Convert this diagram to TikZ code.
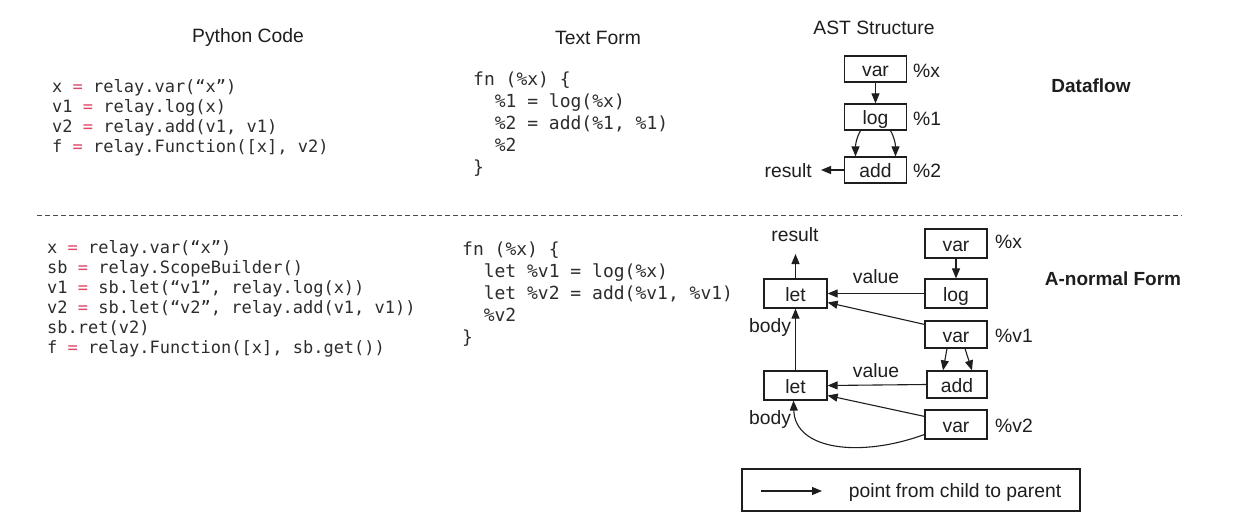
\documentclass[tikz,border=0pt]{standalone}
\usepackage{fontspec}
\setmainfont{Liberation Sans}
\newfontfamily\codefont{DejaVu Sans Mono}
\usetikzlibrary{arrows.meta}
\definecolor{eqred}{RGB}{222,72,104}
\definecolor{ink}{RGB}{30,30,30}
\definecolor{codeink}{RGB}{45,45,45}
\begin{document}
\begin{tikzpicture}[x=1pt,y=-1pt,
  lbl/.style={font=\fontsize{19.3}{22}\selectfont, text=ink, inner sep=0pt, anchor=base},
  lblw/.style={lbl, anchor=base west},
  bold/.style={font=\fontsize{19}{22}\selectfont\bfseries, text=ink, inner sep=0pt, anchor=base},
  pyc/.style={font=\codefont\fontsize{17}{20}\selectfont, text=codeink, inner sep=0pt, anchor=base west},
  txc/.style={font=\codefont\fontsize{18}{22}\selectfont, text=codeink, inner sep=0pt, anchor=base west},
  astbox/.style={draw=ink, line width=1.2pt, minimum width=62pt, minimum height=27pt, inner sep=0pt,
     text height=15pt, text depth=0pt, font=\fontsize{19.3}{22}\selectfont, text=ink},
  arr/.style={draw=ink, line width=1.1pt, -{Triangle[length=10pt,width=8pt]}},
]
\useasboundingbox[fill=white] (0,0) rectangle (1260,525);
\newcommand{\eq}{\textcolor{eqred}{=}}

% ---------- titles ----------
\node[lbl] (tpy) at (248,42) {Python Code};
\node[lbl] (ttx) at (598,44) {Text Form};
\node[lbl] (tast) at (874,34) {AST Structure};

% ---------- top python code ----------
\node[pyc] (p1) at (52,92)  {x \eq{} relay.var(“x”)};
\node[pyc] (p2) at (52,112) {v1 \eq{} relay.log(x)};
\node[pyc] (p3) at (52,132) {v2 \eq{} relay.add(v1, v1)};
\node[pyc] (p4) at (52,152) {f \eq{} relay.Function([x], v2)};

% ---------- top text form ----------
\node[txc] (t1) at (473,85)  {fn (\%x) \{};
\node[txc] (t2) at (494.6,107) {\%1 = log(\%x)};
\node[txc] (t3) at (494.6,129) {\%2 = add(\%1, \%1)};
\node[txc] (t4) at (494.6,151) {\%2};
\node[txc] (t5) at (473,173) {\}};

% ---------- top AST ----------
\node[astbox, minimum height=26pt] (var) at (875.5,69) {var};
\node[astbox, minimum height=26pt] (log) at (875.5,117) {log};
\node[astbox, minimum height=26pt] (add) at (875.5,170) {add};
\node[lblw] (px) at (913,77) {\%x};
\node[lblw] (p1l) at (913,125) {\%1};
\node[lblw] (p2l) at (913,177) {\%2};
\node[lbl, anchor=base east] (res1) at (812,177) {result};
\draw[arr] (var) -- (log);
\draw[arr] ([xshift=-15pt]log.south) .. controls +(-4,7) and +(0,-12) .. ([xshift=-20pt]add.north);
\draw[arr] ([xshift=15pt]log.south) .. controls +(4,7) and +(0,-12) .. ([xshift=20pt]add.north);
\draw[arr] (add.west) -- ([xshift=9pt]res1.east |- add.west);
\node[bold] (df) at (1091,92) {Dataflow};

% ---------- separator ----------
\coordinate (sepL) at (37,215);
\coordinate (sepR) at (1182,215);
\draw[ink!80, line width=1pt, dash pattern=on 5pt off 3pt] (sepL) -- (sepR);

% ---------- bottom python code ----------
\node[pyc] (q1) at (47,253) {x \eq{} relay.var(“x”)};
\node[pyc] (q2) at (47,273) {sb \eq{} relay.ScopeBuilder()};
\node[pyc] (q3) at (47,293) {v1 \eq{} sb.let(“v1”, relay.log(x))};
\node[pyc] (q4) at (47,313) {v2 \eq{} sb.let(“v2”, relay.add(v1, v1))};
\node[pyc] (q5) at (47,333) {sb.ret(v2)};
\node[pyc] (q6) at (47,353) {f \eq{} relay.Function([x], sb.get())};

% ---------- bottom text form ----------
\node[txc] (s1) at (462,255) {fn (\%x) \{};
\node[txc] (s2) at (483.6,277) {let \%v1 = log(\%x)};
\node[txc] (s3) at (483.6,299) {let \%v2 = add(\%v1, \%v1)};
\node[txc] (s4) at (483.6,321) {\%v2};
\node[txc] (s5) at (462,343) {\}};

% ---------- bottom AST ----------
\node[astbox, minimum width=63pt, minimum height=29pt] (let1) at (795.5,293.5) {let};
\node[astbox, minimum width=63pt, minimum height=29pt] (let2) at (795.5,385.5) {let};
\node[astbox, minimum height=29pt] (varx) at (956,243.5) {var};
\node[astbox, minimum height=29pt] (log2) at (956,293.5) {log};
\node[astbox] (varv1) at (956,334.5) {var};
\node[astbox, minimum width=60pt] (add2) at (957,384.5) {add};
\node[astbox, minimum height=29pt] (varv2) at (956,424.5) {var};
\node[lblw] (lx) at (995,248) {\%x};
\node[lblw] (lv1) at (995,342) {\%v1};
\node[lblw] (lv2) at (995,432) {\%v2};
\node[lbl] (res2) at (795,241) {result};
\coordinate (restip) at (795.5,254);
\node[lbl] (val1) at (876,283) {value};
\node[lbl] (val2) at (876,377) {value};
\node[lbl] (body1) at (770,332) {body};
\node[lbl] (body2) at (770,424) {body};
\node[bold] (anf) at (1113,285) {A-normal Form};

\draw[arr] (let1.north) -- (restip);
\draw[arr] (varx) -- (log2);
\draw[arr] (log2.west) -- (let1.east);
\draw[arr] ([yshift=-4pt]varv1.north west) -- ([yshift=-9pt]let1.east);
\draw[arr] (let2.north) -- (let1.south);
\draw[arr] ([xshift=-9pt]varv1.south) -- ([xshift=-14pt]add2.north);
\draw[arr] ([xshift=9pt]varv1.south) -- ([xshift=15pt]add2.north);
\draw[arr] (add2.west) -- (let2.east);
\draw[arr] ([yshift=-7pt]varv2.north west) -- ([yshift=-10pt]let2.east);
\draw[arr] ([yshift=-10pt]varv2.west) .. controls (860,458) and (795,450) .. ([xshift=-2pt]let2.south);

% ---------- legend ----------
\node[draw=ink, line width=1.1pt, minimum width=338pt, minimum height=42pt, inner sep=0pt] (legend) at (911,490) {};
\coordinate (legA) at (761,491);
\coordinate (legB) at (822,491);
\draw[arr] (legA) -- (legB);
\node[lbl] (legtxt) at (955,497) {point from child to parent};
\end{tikzpicture}
\end{document}
